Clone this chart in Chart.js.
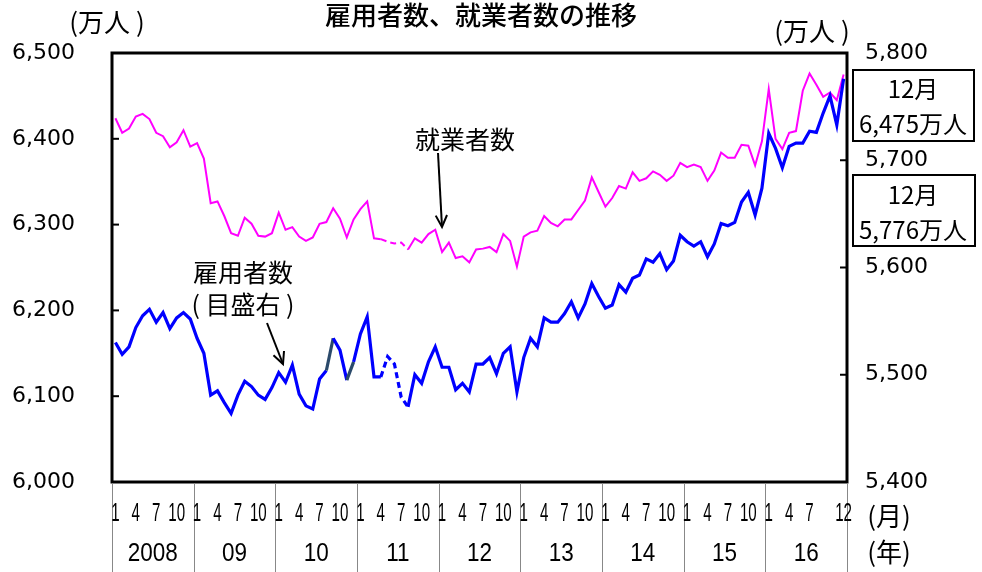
<!DOCTYPE html>
<html>
<head>
<meta charset="utf-8">
<script src="https://cdn.jsdelivr.net/npm/chart.js@4.4.1/dist/chart.umd.min.js"></script>
<style>
  html, body { margin: 0; padding: 0; background: #fff; }
  #wrap { width: 982px; height: 572px; }
</style>
</head>
<body>
<div id="wrap"><canvas id="c" width="982" height="572"></canvas></div>
<script>
// ---- data ----
const years = ['2008', '09', '10', '11', '12', '13', '14', '15', '16'];
const monthTicks = ['1', '4', '7', '10'];
const lastYearTicks = ['1', '4', '7', '12'];

// 就業者数 (left axis, 万人)
const employed = [
  6424, 6407, 6412, 6426, 6429, 6423, 6407, 6403, 6390, 6396, 6410, 6391,
  6395, 6377, 6325, 6327, 6310, 6290, 6287, 6308, 6301, 6287, 6286, 6290,
  6314, 6294, 6297, 6286, 6281, 6285, 6301, 6303, 6319, 6307, 6285, 6306,
  6318, 6327, 6284, 6283, 6280, 6278, 6279, 6271, 6284, 6279, 6289, 6294,
  6268, 6279, 6261, 6263, 6256, 6271, 6272, 6274, 6268, 6289, 6281, 6251,
  6286, 6291, 6293, 6310, 6302, 6298, 6306, 6306, 6317, 6328, 6355, 6338,
  6321, 6331, 6345, 6342, 6361, 6351, 6354, 6362, 6358, 6351, 6357, 6372,
  6367, 6370, 6367, 6351, 6363, 6384, 6378, 6378, 6393, 6392, 6369, 6397,
  6458, 6400, 6388, 6407, 6409, 6456, 6476, 6463, 6449, 6454, 6445, 6475
];

// 雇用者数 (right axis, 万人)
const employees = [
  5530, 5519, 5526, 5544, 5555, 5561, 5549, 5558, 5543, 5553, 5558, 5552,
  5534, 5520, 5481, 5485, 5474, 5464, 5481, 5494, 5489, 5481, 5477, 5488,
  5502, 5493, 5509, 5482, 5471, 5468, 5496, 5504, 5534, 5523, 5495, 5512,
  5538, 5554, 5498, 5498, 5517, 5510, 5479, 5470, 5500, 5492, 5512, 5526,
  5507, 5507, 5486, 5492, 5484, 5510, 5510, 5516, 5501, 5520, 5526, 5484,
  5516, 5534, 5526, 5553, 5549, 5549, 5557, 5568, 5553, 5566, 5585, 5573,
  5562, 5565, 5584, 5577, 5590, 5593, 5608, 5605, 5613, 5598, 5606, 5630,
  5624, 5620, 5624, 5610, 5622, 5641, 5639, 5642, 5661, 5670, 5649, 5674,
  5725, 5711, 5693, 5713, 5716, 5716, 5727, 5726, 5744, 5760, 5733, 5776
];

const leftTicks = [6000, 6100, 6200, 6300, 6400, 6500];
const rightTicks = [5400, 5500, 5600, 5700, 5800];
const dashFrom = 39, dashTo = 43; // 2011 estimates (dashed)

const categories = [];
years.forEach((y) => { for (let m = 1; m <= 12; m++) categories.push(y + '-' + m); });

const JP = '"Noto Sans CJK JP", "Noto Sans", sans-serif';
const NUM = '"Liberation Sans Narrow", "Liberation Sans", Arial, sans-serif';
const TICKF = '"DejaVu Sans", sans-serif';

function fmt(v) { return String(v).replace(/\B(?=(\d{3})+(?!\d))/g, ','); }

function arrow(ctx, x1, y1, x2, y2) {
  ctx.save();
  ctx.strokeStyle = '#000'; ctx.lineWidth = 2;
  ctx.beginPath(); ctx.moveTo(x1, y1); ctx.lineTo(x2, y2); ctx.stroke();
  const a = Math.atan2(y2 - y1, x2 - x1), L = 13, w = 0.45;
  ctx.beginPath();
  ctx.moveTo(x2 - L * Math.cos(a - w), y2 - L * Math.sin(a - w));
  ctx.lineTo(x2, y2);
  ctx.lineTo(x2 - L * Math.cos(a + w), y2 - L * Math.sin(a + w));
  ctx.stroke();
  ctx.restore();
}

const deco = {
  id: 'deco',
  afterDatasetsDraw(chart) {
    const { ctx, chartArea: ca, scales } = chart;
    const xs = scales.x, yl = scales.y, yr = scales.y1;
    ctx.save();
    // inner ticks
    ctx.strokeStyle = '#000'; ctx.lineWidth = 2;
    leftTicks.forEach(v => { const p = yl.getPixelForValue(v); ctx.beginPath(); ctx.moveTo(ca.left, p); ctx.lineTo(ca.left + 7, p); ctx.stroke(); });
    rightTicks.forEach(v => { const p = yr.getPixelForValue(v); ctx.beginPath(); ctx.moveTo(ca.right, p); ctx.lineTo(ca.right - 7, p); ctx.stroke(); });
    // plot frame
    ctx.lineWidth = 3;
    ctx.strokeRect(ca.left, ca.top, ca.right - ca.left, ca.bottom - ca.top);

    // year separators
    const step = (ca.right - ca.left) / categories.length;
    ctx.strokeStyle = '#888'; ctx.lineWidth = 1;
    for (let k = 0; k <= years.length; k++) {
      const x = Math.round(ca.left + k * 12 * step) + 0.5;
      ctx.beginPath(); ctx.moveTo(x, ca.bottom + 1); ctx.lineTo(x, 572); ctx.stroke();
    }
    // month labels (condensed to a fixed digit width)
    ctx.fillStyle = '#000';
    ctx.textAlign = 'center'; ctx.textBaseline = 'middle';
    ctx.font = '25px ' + NUM;
    const dw = ctx.measureText('0').width;
    const sxM = 8.4 / dw, sxY = 12.5 / dw;
    years.forEach((y, yi) => {
      const labs = yi === years.length - 1 ? lastYearTicks : monthTicks;
      labs.forEach(m => {
        const idx = yi * 12 + parseInt(m, 10) - 1;
        const x = xs.getPixelForValue(idx);
        ctx.save(); ctx.translate(x, 514); ctx.scale(sxM, 1); ctx.fillText(m, 0, 0); ctx.restore();
      });
      const xm = (xs.getPixelForValue(yi * 12) + xs.getPixelForValue(yi * 12 + 11)) / 2;
      ctx.save(); ctx.translate(xm, 554); ctx.scale(sxY, 1); ctx.fillText(y, 0, 0); ctx.restore();
    });
    ctx.font = '26px ' + JP;
    ctx.fillText('(月)', 889, 516);
    ctx.fillText('(年)', 889, 552);

    // title & units
    ctx.font = '500 26px ' + JP;
    ctx.fillText('雇用者数、就業者数の推移', 481, 15);
    ctx.font = '26px ' + JP;
    ctx.fillText('(万人 )', 107, 22);
    ctx.fillText('(万人 )', 812, 31);

    // annotations
    ctx.font = '25px ' + JP;
    ctx.fillText('就業者数', 465, 139);
    arrow(ctx, 438, 153, 442, 227);
    ctx.fillText('雇用者数', 243, 272);
    ctx.fillText('( 目盛右 )', 243, 304);
    arrow(ctx, 267, 323, 283, 364);

    // value boxes
    ctx.strokeStyle = '#000'; ctx.lineWidth = 2;
    ctx.strokeRect(853, 70, 121, 71);
    ctx.strokeRect(853, 175, 122, 71);
    ctx.font = '24px ' + JP;
    ctx.fillText('12月', 913, 89);
    ctx.fillText('6,475万人', 913, 124);
    ctx.fillText('12月', 913, 195);
    ctx.fillText('5,776万人', 913, 230);
    ctx.restore();
  }
};

const darkSeg = (c) => ((c.p0DataIndex === 31 || c.p0DataIndex === 34) ? '#2b4a6b' : undefined);
const dashSeg = (c) => (c.p0DataIndex >= dashFrom && c.p1DataIndex <= dashTo ? [6, 4] : undefined);

new Chart(document.getElementById('c'), {
  type: 'line',
  data: {
    labels: categories,
    datasets: [
      {
        label: '雇用者数',
        data: employees,
        yAxisID: 'y1',
        borderColor: '#0000ff',
        borderWidth: 3.2,
        pointRadius: 0,
        tension: 0,
        order: 0,
        segment: { borderDash: dashSeg, borderColor: darkSeg }
      },
      {
        label: '就業者数',
        data: employed,
        yAxisID: 'y',
        borderColor: '#ff00ff',
        borderWidth: 2,
        pointRadius: 0,
        tension: 0,
        order: 1,
        segment: { borderDash: dashSeg }
      }
    ]
  },
  options: {
    responsive: false,
    animation: false,
    devicePixelRatio: 1,
    layout: { padding: { top: 53, left: 0, right: 0, bottom: 0 } },
    plugins: { legend: { display: false }, title: { display: false }, tooltip: { enabled: false } },
    scales: {
      x: {
        type: 'category',
        offset: true,
        grid: { display: false, drawTicks: false },
        border: { display: false },
        ticks: { display: false },
        afterFit: (s) => { s.height = 90; }
      },
      y: {
        position: 'left',
        min: 6000, max: 6500,
        afterBuildTicks: (s) => { s.ticks = leftTicks.map(v => ({ value: v })); },
        ticks: { callback: (v) => fmt(v), color: '#000', font: { family: TICKF, size: 22 }, padding: 37 },
        grid: { drawOnChartArea: false, drawTicks: false },
        border: { display: false },
        afterFit: (s) => { s.width = 112; }
      },
      y1: {
        position: 'right',
        min: 5400, max: 5800,
        afterBuildTicks: (s) => { s.ticks = rightTicks.map(v => ({ value: v })); },
        ticks: { callback: (v) => fmt(v), color: '#000', font: { family: TICKF, size: 22 }, padding: 18 },
        grid: { drawOnChartArea: false, drawTicks: false },
        border: { display: false },
        afterFit: (s) => { s.width = 135; }
      }
    }
  },
  plugins: [deco]
});
</script>
</body>
</html>
